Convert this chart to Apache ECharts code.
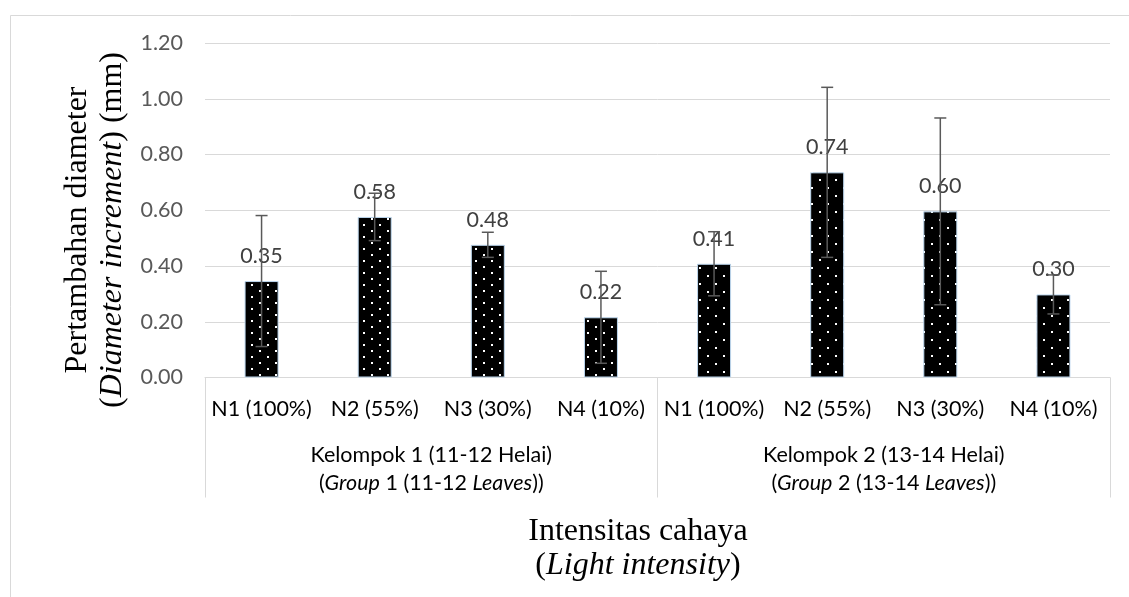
<!DOCTYPE html>
<html><head><meta charset="utf-8">
<script src="https://cdn.jsdelivr.net/npm/echarts@6/dist/echarts.min.js"></script>
<style>html,body{margin:0;padding:0;background:#fff}#c{width:1129px;height:597px}</style>
</head><body><div id="c"></div>
<script>
// ---- data ----
const categories = ['N1 (100%)', 'N2 (55%)', 'N3 (30%)', 'N4 (10%)', 'N1 (100%)', 'N2 (55%)', 'N3 (30%)', 'N4 (10%)'];
const groupLine1 = ['Kelompok 1 (11-12 Helai)', 'Kelompok 2 (13-14 Helai)'];
const groupNum = ['1', '2'];
const groupRange = ['11-12', '13-14'];
const means = [0.346, 0.576, 0.476, 0.216, 0.408, 0.736, 0.596, 0.298];
const errors = [0.235, 0.085, 0.045, 0.165, 0.115, 0.305, 0.335, 0.07];
const groupOf = [0, 0, 0, 0, 1, 1, 1, 1];
const yMin = 0, yMax = 1.2, yStep = 0.2;

// ---- patterns ----
function makePattern(w, h, dots) {
  const c = document.createElement('canvas');
  c.width = w; c.height = h;
  const g = c.getContext('2d');
  g.fillStyle = '#000'; g.fillRect(0, 0, w, h);
  g.fillStyle = '#fff';
  dots.forEach(d => g.fillRect(d[0], d[1], 2, 2));
  return c;
}
const pat = [
  makePattern(16, 12, [[3, 2], [11, 8]]),
  makePattern(16, 16, [[3, 3], [11, 11]])
];

const FONT = 'Lato';
const FS = 21.5;
const chart = echarts.init(document.getElementById('c'));
chart.setOption({
  animation: false,
  backgroundColor: '#fff',
  grid: { left: 205, right: 19, top: 43, bottom: 219.5, containLabel: false },
  xAxis: [{
    type: 'category',
    data: categories,
    axisLine: { show: true, lineStyle: { color: '#d9d9d9', width: 1 } },
    axisTick: { show: false },
    axisLabel: { interval: 0, color: '#000', fontFamily: FONT, fontSize: FS, margin: 19, lineHeight: 26 }
  }, {
    type: 'category',
    data: groupLine1,
    position: 'bottom',
    gridIndex: 0,
    axisLine: { show: false },
    axisTick: { show: true, length: 120, lineStyle: { color: '#d9d9d9', width: 1 } },
    axisLabel: {
      interval: 0, margin: 64, color: '#000', fontFamily: FONT, fontSize: FS, lineHeight: 28,
      formatter: (v, i) => v + '\n{n|(}{i|Group}{n| ' + groupNum[i] + ' (' + groupRange[i] + ' }{i|Leaves}{n|))}',
      rich: {
        n: { fontFamily: FONT, fontSize: FS, color: '#000', lineHeight: 28 },
        i: { fontFamily: FONT, fontSize: FS, color: '#000', fontStyle: 'italic', lineHeight: 28 }
      }
    }
  }],
  yAxis: {
    type: 'value', min: yMin, max: yMax, interval: yStep,
    axisLine: { show: false }, axisTick: { show: false },
    splitLine: { lineStyle: { color: '#d9d9d9', width: 1 } },
    axisLabel: { color: '#595959', fontFamily: FONT, fontSize: FS, margin: 22, formatter: v => v.toFixed(2) }
  },
  series: [{
    type: 'bar',
    barWidth: 34,
    data: means.map((v, i) => ({
      value: v,
      itemStyle: { color: { image: pat[groupOf[i]], repeat: 'repeat' }, borderColor: '#bdd7ee', borderWidth: 1 }
    })),
    label: {
      show: true, position: 'top', distance: 14,
      color: '#404040', fontFamily: FONT, fontSize: FS,
      formatter: p => p.value.toFixed(2)
    },
    z: 2
  }, {
    type: 'custom',
    data: means.map((v, i) => [i, v, errors[i]]),
    z: 5,
    renderItem: (params, api) => {
      const x = api.value(0), m = api.value(1), e = api.value(2);
      const top = api.coord([x, m + e]);
      const bot = api.coord([x, m - e]);
      const cw = 6;
      const st = { stroke: '#595959', lineWidth: 1.5 };
      return {
        type: 'group',
        children: [
          { type: 'line', shape: { x1: top[0], y1: top[1], x2: bot[0], y2: bot[1] }, style: st },
          { type: 'line', shape: { x1: top[0] - cw, y1: top[1], x2: top[0] + cw, y2: top[1] }, style: st },
          { type: 'line', shape: { x1: bot[0] - cw, y1: bot[1], x2: bot[0] + cw, y2: bot[1] }, style: st }
        ]
      };
    }
  }],
  graphic: [
    { type: 'rect', shape: { x: 10.5, y: 15.5, width: 1300, height: 800 }, style: { fill: 'none', stroke: '#d9d9d9', lineWidth: 1 }, silent: true, z: -1 },
    {
      type: 'text', x: 95, y: 230, rotation: Math.PI / 2,
      style: {
        text: '{r|Pertambahan diameter}\n{r|(}{it|Diameter increment}{r|) (mm)}',
        align: 'center', verticalAlign: 'middle',
        rich: {
          r: { fontFamily: 'Liberation Serif', fontSize: 32, lineHeight: 35, fill: '#000' },
          it: { fontFamily: 'Liberation Serif', fontSize: 32, lineHeight: 35, fill: '#000', fontStyle: 'italic' }
        }
      }
    },
    {
      type: 'text', x: 638, y: 549,
      style: {
        text: '{r|Intensitas cahaya}\n{r|(}{it|Light intensity}{r|)}',
        align: 'center', verticalAlign: 'middle',
        rich: {
          r: { fontFamily: 'Liberation Serif', fontSize: 32, lineHeight: 34, fill: '#000' },
          it: { fontFamily: 'Liberation Serif', fontSize: 32, lineHeight: 34, fill: '#000', fontStyle: 'italic' }
        }
      }
    }
  ]
});
</script>
</body></html>
